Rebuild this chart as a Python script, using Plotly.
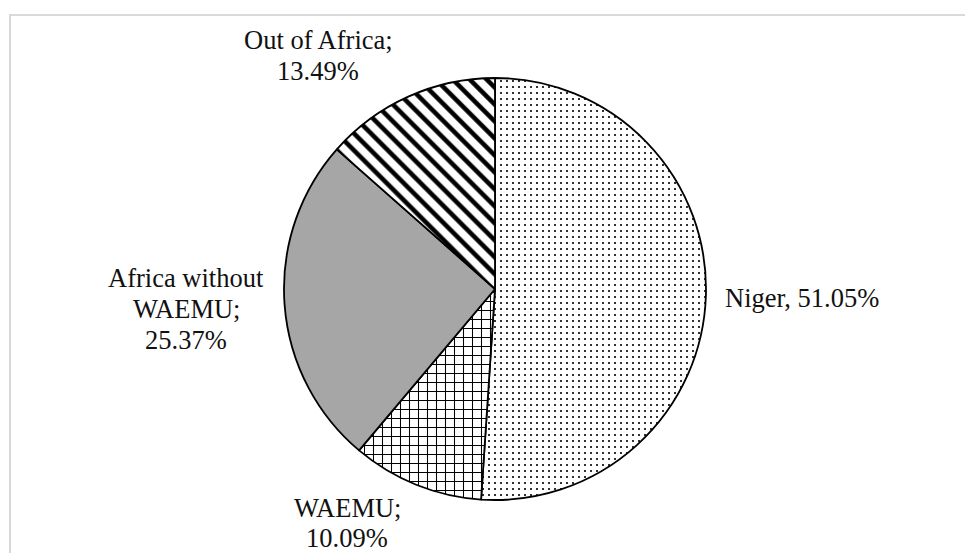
import plotly.graph_objects as go

# ---- data ----
categories = ["Niger", "WAEMU", "Africa without WAEMU", "Out of Africa"]
label_lines = [["Niger,"], ["WAEMU;"], ["Africa without", "WAEMU;"], ["Out of Africa;"]]
shares = [51.05, 10.09, 25.37, 13.49]

W, H = 965, 553
FONT = "Liberation Serif, Times New Roman, serif"
FS = 26.5
LINE = 31  # px between baselines

fig = go.Figure()
fig.add_trace(go.Pie(
    labels=categories,
    values=shares,
    sort=False,
    direction="clockwise",
    rotation=0,
    textinfo="none",
    hoverinfo="label+percent",
    showlegend=False,
    marker=dict(
        colors=["white", "white", "#a6a6a6", "white"],
        line=dict(color="black", width=1.8),
        pattern=dict(
            shape=[".", "+", "", "\\"],
            fgcolor=["black", "black", "black", "black"],
            bgcolor=["white", "white", "#a6a6a6", "white"],
            size=[6, 9, 8, 12],
            solidity=[0.1, 0.22, 0.3, 0.38],
        ),
    ),
    domain=dict(x=[284 / W, 706 / W], y=[1 - 500 / H, 1 - 78 / H]),
))

# label anchor: (centre x, centre y of first line, line gap) in pixels
label_pos = [(802, 298, LINE), (347, 508, 30), (186, 278, LINE), (318, 40, LINE)]
for i, (lines, val) in enumerate(zip(label_lines, shares)):
    pct = f"{val:.2f}%"
    if i == 0:
        rows = [f"{lines[0]} {pct}"]
    else:
        rows = lines + [pct]
    px, py, gap = label_pos[i]
    for k, row in enumerate(rows):
        fig.add_annotation(
            x=px / W, y=1 - (py + k * gap) / H, xref="paper", yref="paper",
            text=row, showarrow=False, xanchor="center", yanchor="middle",
            align="center",
            font=dict(family=FONT, size=FS, color="#111111"),
        )

# outer light-grey frame
fig.add_shape(type="rect", xref="paper", yref="paper",
              x0=10 / W, y0=1 - 15 / H, x1=1.02, y1=-0.02,
              line=dict(color="#d9d9d9", width=2), fillcolor="rgba(0,0,0,0)",
              layer="below")

fig.update_layout(
    width=W, height=H,
    margin=dict(l=0, r=0, t=0, b=0),
    paper_bgcolor="white",
    plot_bgcolor="white",
    font=dict(family=FONT, color="#111111"),
)

fig.write_html("out.html")
